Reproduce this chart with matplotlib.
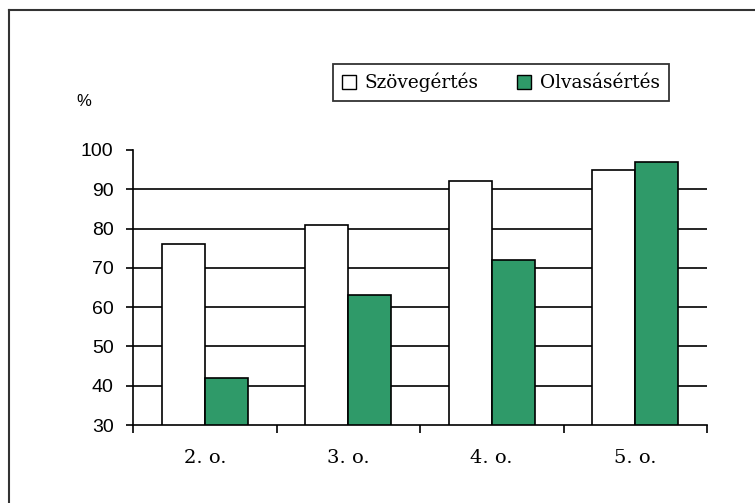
import numpy as np
import matplotlib
matplotlib.use("Agg")
from matplotlib import pyplot as plt
from matplotlib.lines import Line2D

# data
categories = ["2. o.", "3. o.", "4. o.", "5. o."]
szoveg = [76, 81, 92, 95]
olvasas = [42, 63, 72, 97]
series_names = ["Szövegértés", "Olvasásértés"]
yticks = [30, 40, 50, 60, 70, 80, 90, 100]

green = "#2f9a69"

fig = plt.figure(figsize=(7.55, 5.03), dpi=100)
ax = fig.add_axes([133/755, 1 - 425/503, 574/755, 275/503])

x = np.arange(len(categories))
w = 0.3

# gridlines behind the bars (none at 100)
for v in yticks[1:-1]:
    ax.axhline(v, color="black", lw=1.2, zorder=1)

ax.bar(x - w/2, szoveg, w, bottom=0, color="white", edgecolor="black", lw=1.2, zorder=2)
ax.bar(x + w/2, olvasas, w, bottom=0, color=green, edgecolor="black", lw=1.2, zorder=2)

ax.set_xlim(-0.5, len(categories) - 0.5)
ax.set_ylim(30, 100)

ax.spines["top"].set_visible(False)
ax.spines["right"].set_visible(False)
ax.spines["left"].set_linewidth(1.2)
ax.spines["bottom"].set_linewidth(1.2)

ax.set_yticks(yticks)
ax.tick_params(axis="y", direction="out", length=5, width=1.2, pad=9,
               labelsize=14, labelfontfamily="Liberation Sans")

# major ticks on category boundaries, labels on minor ticks
ax.set_xticks(np.arange(-0.5, len(categories), 1.0))
ax.set_xticklabels([])
ax.set_xticks(x, minor=True)
ax.set_xticklabels(categories, minor=True, fontfamily="DejaVu Serif", fontsize=14)
ax.tick_params(axis="x", which="major", direction="out", length=6, width=1.2)
ax.tick_params(axis="x", which="minor", length=0, pad=17)

fig.text(84/755, 1 - 101/503, "%", fontsize=12, ha="center", va="center", fontfamily="Liberation Sans")

handles = [plt.Rectangle((0, 0), 1, 1, fc="white", ec="black", lw=1),
           plt.Rectangle((0, 0), 1, 1, fc=green, ec="black", lw=1)]
leg = fig.legend(handles, series_names, loc="center", bbox_to_anchor=(501/755, 1 - 82.5/503),
                 ncol=2, frameon=True, fancybox=False, shadow=False, edgecolor="black",
                 prop={"family": "DejaVu Serif", "size": 13.3},
                 handlelength=0.75, handleheight=0.75, handletextpad=0.45, columnspacing=2.1,
                 borderpad=0.5, borderaxespad=0)
leg.get_frame().set_linewidth(1.3)

# outer frame (top and left edges only visible)
fig.add_artist(Line2D([9/755, 1], [1 - 10/503, 1 - 10/503], color="#333333", lw=1.5))
fig.add_artist(Line2D([9/755, 9/755], [0, 1 - 10/503], color="#333333", lw=1.5))

fig.savefig("out.png", dpi=100)
